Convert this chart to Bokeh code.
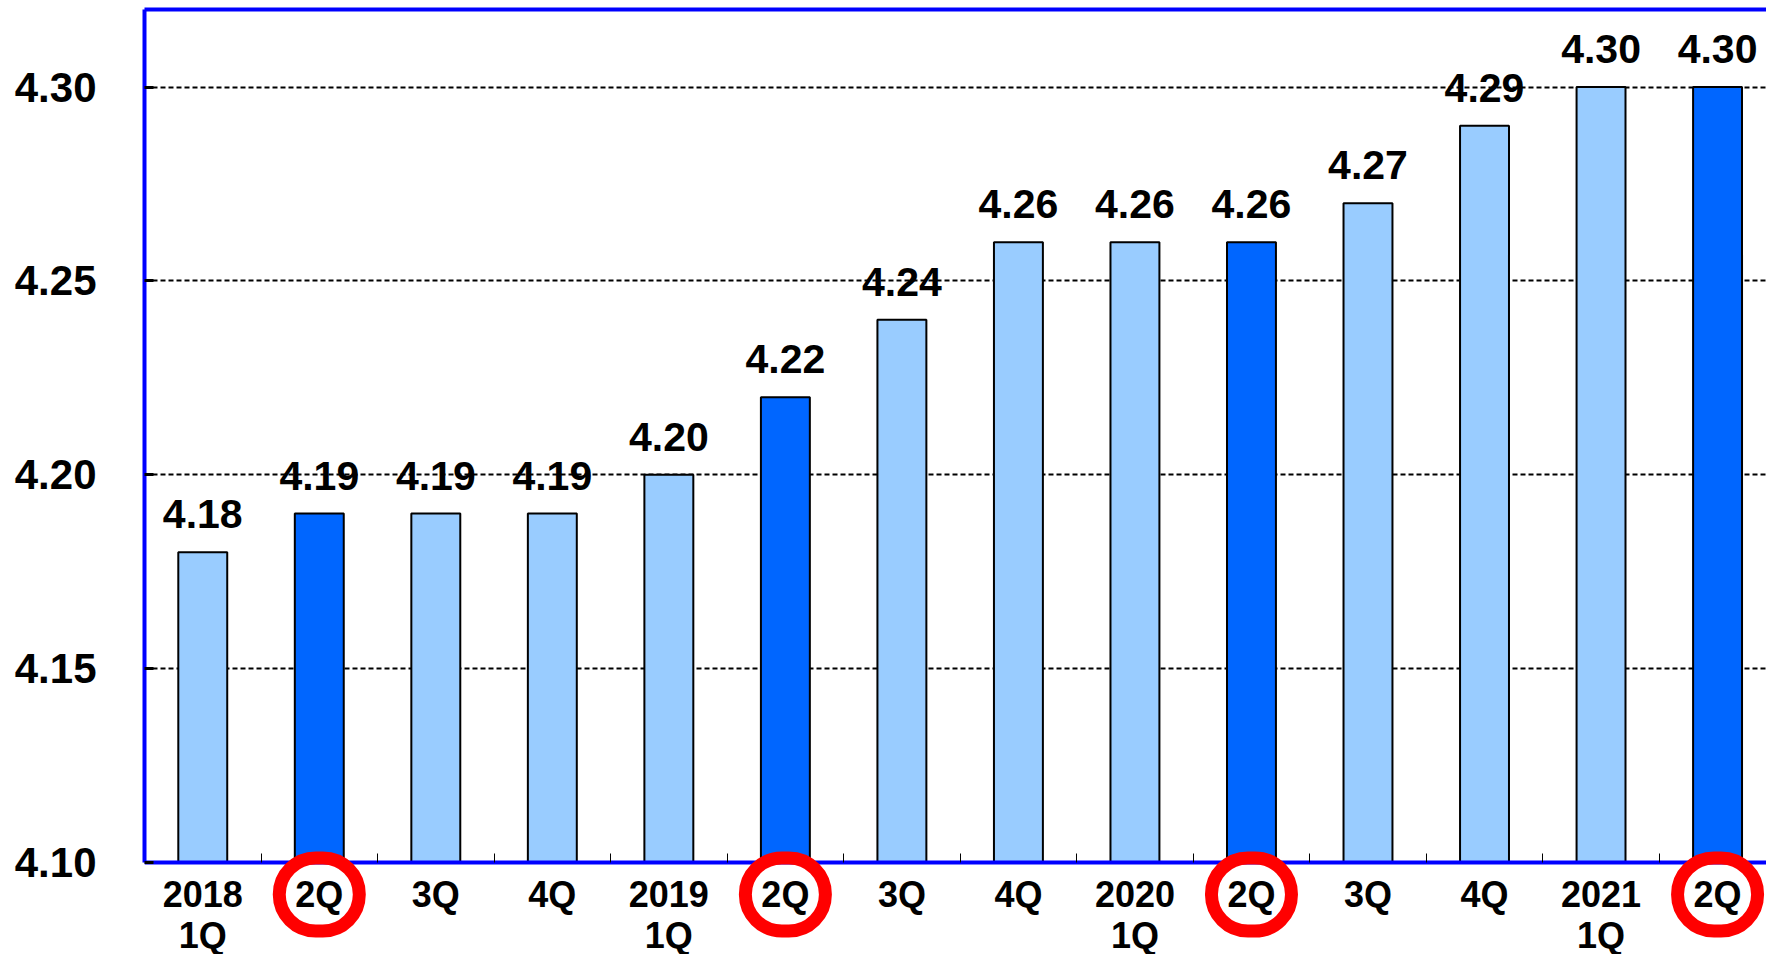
from bokeh.plotting import figure
from bokeh.models import ColumnDataSource, FixedTicker, Range1d, Label, LinearAxis
from bokeh.core.properties import value
from bokeh.embed import file_html
from bokeh.resources import INLINE

# ---- data ----
categories = ["2018\n1Q", "2Q", "3Q", "4Q", "2019\n1Q", "2Q", "3Q", "4Q",
              "2020\n1Q", "2Q", "3Q", "4Q", "2021\n1Q", "2Q"]
values = [4.18, 4.19, 4.19, 4.19, 4.20, 4.22, 4.24, 4.26, 4.26, 4.26, 4.27, 4.29, 4.30, 4.30]
highlight = [False, True, False, False, False, True, False, False, False, True, False, False, False, True]
y_ticks = [4.10, 4.15, 4.20, 4.25, 4.30]

LIGHT = "#99CCFF"
DARK = "#0066FF"
FONT = "Liberation Sans"

Y_BASE, Y_TOP = 4.10, 4.32
PLOT_PX = 853                      # pixels between Y_BASE and Y_TOP
PX = (Y_TOP - Y_BASE) / PLOT_PX    # data units per pixel
EXTRA = 93                         # label band below the axis, inside frame

idx = list(range(len(categories)))
src = ColumnDataSource(dict(
    x=idx,
    top=values,
    color=[DARK if h else LIGHT for h in highlight],
    label=[f"{v:.2f}" for v in values],
))

p = figure(frame_width=1622, frame_height=PLOT_PX + EXTRA, output_backend="svg", toolbar_location=None,
           x_range=Range1d(-0.5, 13.42), y_range=Range1d(Y_BASE - EXTRA * PX, Y_TOP),
           min_border_left=144, min_border_top=9, min_border_right=0, min_border_bottom=0,
           background_fill_color="white", border_fill_color="white")
p.outline_line_color = None

p.vbar(x="x", top="top", bottom=Y_BASE, width=0.42, fill_color="color",
       line_color="black", line_width=2, source=src)

p.text(x="x", y="top", text="label", source=src, text_align="center",
       text_baseline="alphabetic", y_offset=-38,
       text_font=value(FONT), text_font_style="bold", text_font_size="41px",
       text_color="black")

# y axis
ya = p.yaxis[0]
ya.ticker = FixedTicker(ticks=y_ticks)
ya.bounds = (Y_BASE, Y_TOP)
ya.major_label_overrides = {t: f"{t:.2f}" for t in y_ticks}
ya.axis_line_color = "#0000FF"
ya.axis_line_width = 4
ya.major_tick_in = 9
ya.major_tick_out = 0
ya.major_tick_line_color = "black"
ya.major_tick_line_width = 3
ya.minor_tick_line_color = None
ya.major_label_standoff = 48
ya.major_label_text_font = FONT
ya.major_label_text_font_style = "bold"
ya.major_label_text_font_size = "42px"
ya.major_label_text_color = "black"

# x axis, drawn at the 4.10 baseline
xa = p.xaxis[0]
xa.fixed_location = Y_BASE
xa.ticker = FixedTicker(ticks=idx, minor_ticks=[i + 0.5 for i in idx[:-1]])
xa.major_label_overrides = {i: ("" if highlight[i] else c) for i, c in enumerate(categories)}
xa.axis_line_color = "#0000FF"
xa.axis_line_width = 4
xa.major_tick_in = 0
xa.major_tick_out = 0
xa.minor_tick_in = 9
xa.minor_tick_out = 0
xa.minor_tick_line_color = "black"
xa.minor_tick_line_width = 1
xa.major_label_standoff = 11
xa.major_label_text_font = FONT
xa.major_label_text_font_style = "bold"
xa.major_label_text_font_size = "36px"
xa.major_label_text_color = "black"
xa.major_label_text_line_height = 1.0

# top border line
top_axis = LinearAxis(ticker=FixedTicker(ticks=[]), axis_line_color="#0000FF", axis_line_width=4,
                      major_tick_line_color=None, minor_tick_line_color=None,
                      major_label_text_font_size="0px", major_label_standoff=0)
p.add_layout(top_axis, "above")

p.xgrid.grid_line_color = None
p.ygrid.ticker = FixedTicker(ticks=y_ticks[1:])
p.ygrid.grid_line_color = "black"
p.ygrid.grid_line_width = 2
p.ygrid.grid_line_dash = "5 3"

# ringed 2Q labels
for i, h in enumerate(highlight):
    if h:
        p.add_layout(Label(x=i, y=Y_BASE - 32 * PX, text=categories[i], text_align="center",
                           text_baseline="middle", text_font=FONT, text_font_style="bold",
                           text_font_size="36px", text_color="black",
                           border_line_color="#FF0000", border_line_width=13,
                           border_radius=40, padding=16))

open("out.html", "w").write(file_html(p, INLINE))
